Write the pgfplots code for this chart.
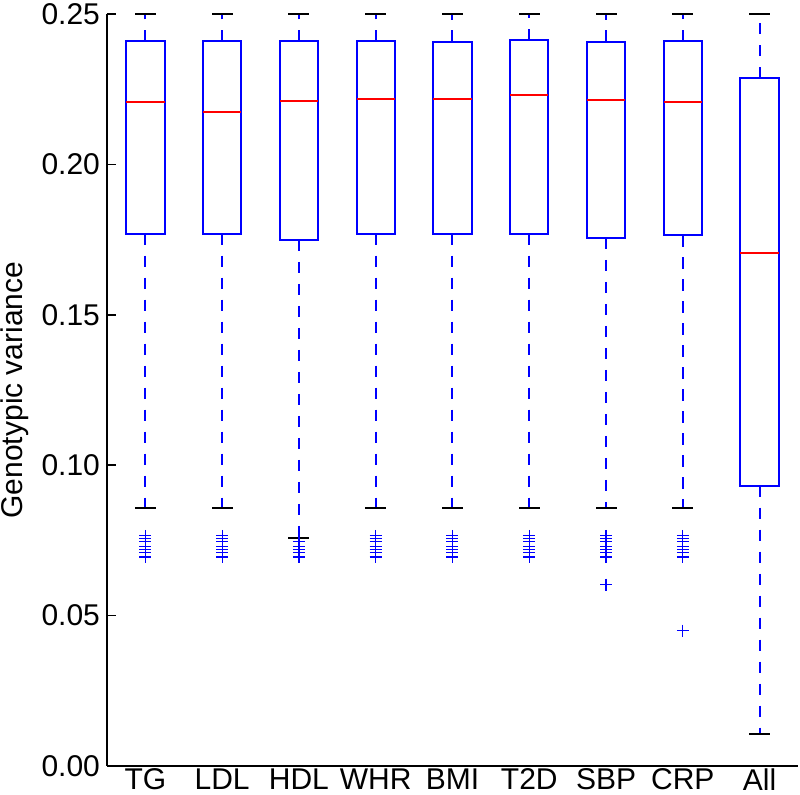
\documentclass[border=0pt]{standalone}
\usepackage{fontspec}
\setmainfont{Liberation Sans}
\usepackage{pgfplots}
\usepackage{pgfplotstable}
\pgfplotsset{compat=1.18}

\pgfplotstableread{
x  lw     q1     med    q3     uw
1  0.0857 0.1770 0.2207 0.2409 0.25
2  0.0857 0.1770 0.2173 0.2409 0.25
3  0.0759 0.1749 0.2211 0.2409 0.25
4  0.0857 0.1770 0.2219 0.2409 0.25
5  0.0857 0.1770 0.2216 0.2408 0.25
6  0.0857 0.1770 0.2232 0.2414 0.25
7  0.0857 0.1756 0.2213 0.2408 0.25
8  0.0857 0.1764 0.2207 0.2410 0.25
9  0.0106 0.0932 0.1706 0.2287 0.25
}\stats

\pgfplotstableread{
x y
1 0.0765
1 0.0755
1 0.0745
1 0.0730
1 0.0720
1 0.0710
1 0.0695
2 0.0765
2 0.0755
2 0.0745
2 0.0730
2 0.0720
2 0.0710
2 0.0695
3 0.0745
3 0.0730
3 0.0720
3 0.0710
3 0.0695
4 0.0765
4 0.0755
4 0.0745
4 0.0730
4 0.0720
4 0.0710
4 0.0695
5 0.0765
5 0.0755
5 0.0745
5 0.0730
5 0.0720
5 0.0710
5 0.0695
6 0.0765
6 0.0755
6 0.0745
6 0.0730
6 0.0720
6 0.0710
6 0.0695
7 0.0765
7 0.0755
7 0.0745
7 0.0730
7 0.0720
7 0.0710
7 0.0695
7 0.0603
8 0.0765
8 0.0755
8 0.0745
8 0.0730
8 0.0720
8 0.0710
8 0.0695
8 0.0450
}\outliers

\pgfplotsset{
  seg/.style={draw=none, mark=none, error bars/.cd, error mark=none},
}

\begin{document}
\begin{tikzpicture}
\begin{axis}[
  scale only axis, width=345.5pt, height=376pt,
  xmin=0.5, xmax=9.5, ymin=0, ymax=0.25,
  axis x line*=bottom, axis y line*=left,
  axis line style={-, line width=0.8pt, black},
  xtick={1,2,3,4,5,6,7,8,9},
  xticklabels={TG,LDL,HDL,WHR,BMI,T2D,SBP,CRP,All},
  x tick style={draw=none},
  xticklabel style={yshift=2pt},
  ytick={0,0.05,0.1,0.15,0.2,0.25},
  y tick style={black, line width=0.8pt},
  major tick length=4.5pt,
  tick align=inside,
  yticklabel style={/pgf/number format/.cd, fixed, fixed zerofill, precision=2, assume math mode=true},
  tick label style={font=\fontsize{15}{18}\selectfont},
  ylabel={Genotypic variance},
  ylabel style={font=\fontsize{15}{18}\selectfont, at={(axis description cs:-0.134,0.5)}, anchor=center},
  clip=false,
]
% lower whiskers (dashed)
\addplot[seg, y dir=minus, y explicit,
  error bar style={draw=blue, solid, line width=1pt, dash pattern=on 5.6pt off 5.4pt}]
  table[x=x, y=q1, y error expr=\thisrow{q1}-\thisrow{lw}] {\stats};
% upper whiskers (dashed)
\addplot[seg, y dir=plus, y explicit,
  error bar style={draw=blue, solid, line width=1pt, dash pattern=on 5.6pt off 5.4pt}]
  table[x=x, y=q3, y error expr=\thisrow{uw}-\thisrow{q3}] {\stats};
% box bottom and top edges
\addplot[seg, x dir=both, x fixed=0.25,
  error bar style={draw=blue, solid, line width=1pt, line cap=rect}]
  table[x=x, y=q1] {\stats};
\addplot[seg, x dir=both, x fixed=0.25,
  error bar style={draw=blue, solid, line width=1pt, line cap=rect}]
  table[x=x, y=q3] {\stats};
% box sides
\addplot[seg, y dir=plus, y explicit,
  error bar style={draw=blue, solid, line width=1pt, line cap=rect}]
  table[x expr=\thisrow{x}-0.25, y=q1, y error expr=\thisrow{q3}-\thisrow{q1}] {\stats};
\addplot[seg, y dir=plus, y explicit,
  error bar style={draw=blue, solid, line width=1pt, line cap=rect}]
  table[x expr=\thisrow{x}+0.25, y=q1, y error expr=\thisrow{q3}-\thisrow{q1}] {\stats};
% medians
\addplot[seg, x dir=both, x fixed=0.25,
  error bar style={draw=red, solid, line width=1pt}]
  table[x=x, y=med] {\stats};
% caps
\addplot[seg, x dir=both, x fixed=0.137,
  error bar style={draw=black, solid, line width=1pt}]
  table[x=x, y=lw] {\stats};
\addplot[seg, x dir=both, x fixed=0.137,
  error bar style={draw=black, solid, line width=1pt}]
  table[x=x, y=uw] {\stats};
% outliers
\addplot[only marks, mark=+, mark size=3pt, mark options={solid, blue, line width=0.6pt}]
  table[x=x, y=y] {\outliers};
\end{axis}
\pgfresetboundingbox
\path[use as bounding box] (-53.5pt,-14.5pt) rectangle (346.5pt,383pt);
\end{tikzpicture}
\end{document}
